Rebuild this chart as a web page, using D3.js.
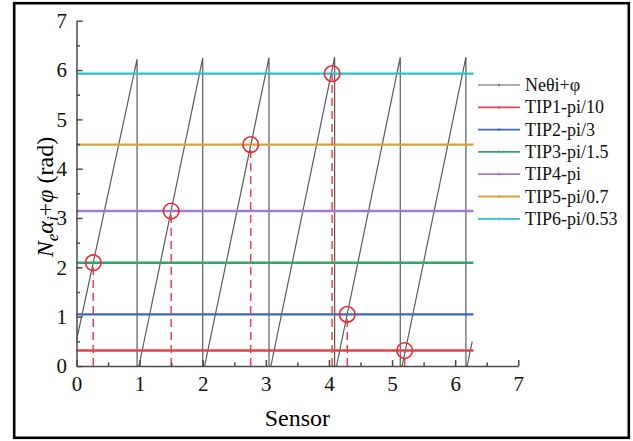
<!DOCTYPE html>
<html lang="en">
  <head>
    <meta charset="UTF-8" />
    <title>Sensor phase chart</title>
    <script src="https://d3js.org/d3.v7.min.js"></script>
    <style>
      body {
        margin: 0;
        background: #fff;
      }
      svg text {
        font-family: "Liberation Serif", "Times New Roman", serif !important;
      }
      .axis path,
      .axis line {
        stroke: #4a4a4a;
        stroke-width: 1.5;
      }
      .axis text {
        font-size: 21px;
        fill: #111;
      }
    </style>
  </head>
  <body>
    <svg id="chart" width="633" height="441"></svg>

    <script>
      // Data
      var sawX = [0, 0.96, 0.96, 0.99, 2.0, 2.0, 2.03, 3.05, 3.05, 3.08, 4.09, 4.09, 4.12, 5.13, 5.13, 5.16, 6.17, 6.17, 6.19, 6.27];
      var sawY = [0.52, 6.22, 0, 0, 6.24, 0, 0, 6.25, 0, 0, 6.26, 0, 0, 6.26, 0, 0, 6.26, 0, 0, 0.5];

      var tipNames = ["TIP1-pi/10", "TIP2-pi/3", "TIP3-pi/1.5", "TIP4-pi", "TIP5-pi/0.7", "TIP6-pi/0.53"];
      var tipLevels = [Math.PI / 10, Math.PI / 3, Math.PI / 1.5, Math.PI, Math.PI / 0.7, Math.PI / 0.53];
      var tipColors = ["#e8414a", "#3a6ab8", "#2ea86a", "#a07cc8", "#d4a23a", "#2ebfc8"];
      var sensorX = [5.2, 4.29, 0.265, 1.5, 2.76, 4.05];
      var lineEnd = 6.29;

      var xTicks = [0, 1, 2, 3, 4, 5, 6, 7];
      var yTicks = [0, 1, 2, 3, 4, 5, 6, 7];

      var serif = '"Liberation Serif", "Times New Roman", serif';

      var svg = d3.select("#chart"),
        margin = { top: 20.7, right: 114.7, bottom: 75, left: 76.5 },
        width = +svg.attr("width") - margin.left - margin.right,
        height = +svg.attr("height") - margin.top - margin.bottom,
        g = svg
          .append("g")
          .attr("transform", "translate(" + margin.left + "," + margin.top + ")");

      // outer frame
      svg
        .append("rect")
        .attr("x", 14.2)
        .attr("y", 3.2)
        .attr("width", 614.6)
        .attr("height", 434.6)
        .attr("fill", "none")
        .attr("stroke", "#000")
        .attr("stroke-width", 2.6);

      var x = d3.scaleLinear().domain([0, 7]).range([0, width]);
      var y = d3.scaleLinear().domain([0, 7]).range([height, 0]);

      // sawtooth
      var sawData = sawX.map(function (d, i) {
        return [d, sawY[i]];
      });
      var line = d3
        .line()
        .x(function (d) {
          return x(d[0]);
        })
        .y(function (d) {
          return y(d[1]);
        });
      g.append("path")
        .datum(sawData)
        .attr("d", line)
        .attr("fill", "none")
        .attr("stroke", "#5a5a5a")
        .attr("stroke-width", 1.2);

      // horizontal TIP lines
      g.selectAll(".tip")
        .data(tipLevels)
        .enter()
        .append("line")
        .attr("class", "tip")
        .attr("x1", x(0))
        .attr("x2", x(lineEnd))
        .attr("y1", function (d) {
          return y(d);
        })
        .attr("y2", function (d) {
          return y(d);
        })
        .attr("stroke", function (d, i) {
          return tipColors[i];
        })
        .attr("stroke-width", 2.4);

      // dashed drop lines
      g.selectAll(".drop")
        .data(sensorX)
        .enter()
        .append("line")
        .attr("class", "drop")
        .attr("x1", function (d) {
          return x(d);
        })
        .attr("x2", function (d) {
          return x(d);
        })
        .attr("y1", y(0))
        .attr("y2", function (d, i) {
          return y(tipLevels[i]);
        })
        .attr("stroke", "#f0424a")
        .attr("stroke-width", 1.5)
        .attr("stroke-dasharray", "8,5");

      // circles
      g.selectAll(".mark")
        .data(sensorX)
        .enter()
        .append("circle")
        .attr("class", "mark")
        .attr("cx", function (d) {
          return x(d);
        })
        .attr("cy", function (d, i) {
          return y(tipLevels[i]);
        })
        .attr("r", 7.8)
        .attr("fill", "none")
        .attr("stroke", "#ee2a2f")
        .attr("stroke-width", 1.6);

      // axes
      g.append("g")
        .attr("class", "axis")
        .attr("transform", "translate(0," + height + ")")
        .call(d3.axisBottom(x).tickValues(xTicks).tickSize(-6).tickSizeOuter(0).tickPadding(10).tickFormat(d3.format("d")))
        .attr("font-family", serif)
        .attr("font-size", 21);
      g.append("g")
        .attr("class", "axis")
        .attr("transform", "translate(0," + height + ")")
        .call(d3.axisBottom(x).tickValues(d3.range(0.5, 7, 1)).tickSize(-3.5).tickFormat(""))
        .select(".domain")
        .remove();

      g.append("g")
        .attr("class", "axis")
        .call(d3.axisLeft(y).tickValues(yTicks).tickSize(-6).tickSizeOuter(0).tickPadding(9.5).tickFormat(d3.format("d")))
        .attr("font-family", serif)
        .attr("font-size", 21);
      g.append("g")
        .attr("class", "axis")
        .call(d3.axisLeft(y).tickValues(d3.range(0.5, 7, 1)).tickSize(-3.5).tickFormat(""))
        .select(".domain")
        .remove();

      // x title
      svg
        .append("text")
        .attr("x", margin.left + width / 2)
        .attr("y", 426)
        .attr("text-anchor", "middle")
        .attr("font-family", serif)
        .style("font-size", "24px")
        .text("Sensor");

      // y title
      var yt = svg
        .append("text")
        .attr("transform", "translate(53,197) rotate(-90)")
        .attr("text-anchor", "middle")
        .attr("font-family", serif)
        .style("font-size", "24px");
      yt.append("tspan").style("font-style", "italic").text("N");
      yt.append("tspan").style("font-style", "italic").style("font-size", "17px").attr("dy", 5).text("e");
      yt.append("tspan").style("font-style", "italic").attr("dy", -5).text("α");
      yt.append("tspan").style("font-style", "italic").style("font-size", "17px").attr("dy", 5).text("i");
      yt.append("tspan").attr("dy", -5).text("+");
      yt.append("tspan").style("font-style", "italic").text("φ");
      yt.append("tspan").text(" (rad)");

      // legend
      var legendNames = ["Neθi+φ"].concat(tipNames);
      var legendColors = ["#5a5a5a"].concat(tipColors);
      var legend = svg.append("g").attr("transform", "translate(478,85)");
      var items = legend
        .selectAll(".legend-item")
        .data(legendNames)
        .enter()
        .append("g")
        .attr("class", "legend-item")
        .attr("transform", function (d, i) {
          return "translate(0," + i * 22.3 + ")";
        });
      items
        .append("line")
        .attr("x1", 0)
        .attr("x2", 42)
        .attr("stroke", function (d, i) {
          return legendColors[i];
        })
        .attr("stroke-width", function (d, i) {
          return i === 0 ? 1.1 : 1.8;
        });
      items
        .append("line")
        .attr("x1", 21)
        .attr("x2", 21)
        .attr("y1", -1.5)
        .attr("y2", 1.5)
        .attr("stroke", function (d, i) {
          return legendColors[i];
        })
        .attr("stroke-width", 1);
      items
        .append("text")
        .attr("x", 47)
        .attr("y", 6)
        .attr("font-family", serif)
        .style("font-size", "18px")
        .attr("fill", "#111")
        .text(function (d) {
          return d;
        });
    </script>
  </body>
</html>
